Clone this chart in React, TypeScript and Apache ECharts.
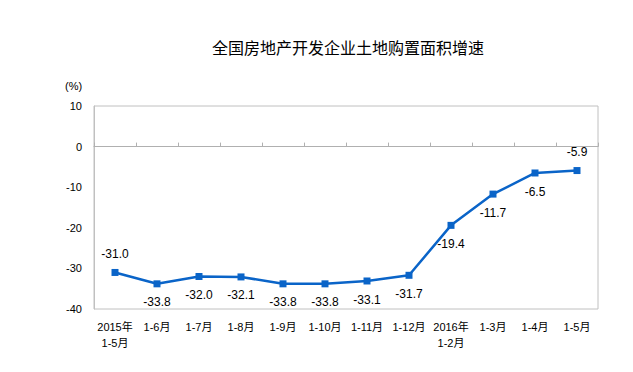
import React, { useEffect, useRef } from "react";
import * as echarts from "echarts";

const categories = ["2015年\n1-5月", "1-6月", "1-7月", "1-8月", "1-9月", "1-10月", "1-11月", "1-12月", "2016年\n1-2月", "1-3月", "1-4月", "1-5月"];
const values = [-31.0, -33.8, -32.0, -32.1, -33.8, -33.8, -33.1, -31.7, -19.4, -11.7, -6.5, -5.9];
const labelPos = ["top", "bottom", "bottom", "bottom", "bottom", "bottom", "bottom", "bottom", "bottom", "bottom", "bottom", "top"];
const title = "全国房地产开发企业土地购置面积增速";
const unit = "(%)";

const FONT = "'Liberation Sans', 'Noto Sans CJK SC', sans-serif";

export default function App() {
  const ref = useRef<HTMLDivElement>(null);
  useEffect(() => {
    const chart = echarts.init(ref.current!, null, { renderer: "svg" });
    const color = "#0a64c8";
    chart.setOption({
      animation: false,
      backgroundColor: "#fff",
      title: {
        text: title,
        left: 343,
        textAlign: "center",
        top: 34,
        textStyle: { fontSize: 16, fontWeight: "normal", color: "#000", fontFamily: "'Noto Sans CJK SC', sans-serif" },
      },
      graphic: [
        {
          type: "text",
          left: 65,
          top: 80,
          style: { text: unit, fontSize: 11, fill: "#000", font: "11px " + FONT },
        },
      ],
      grid: { left: 94, right: 35, top: 106, bottom: 63, show: true, borderColor: "#c0c0c0", borderWidth: 1, backgroundColor: "transparent" },
      xAxis: [
        {
          type: "category",
          data: categories,
          boundaryGap: true,
          axisLine: { onZero: true, lineStyle: { color: "#b0b0b0", width: 1 } },
          axisTick: { show: true, inside: true, length: 4, interval: 0, lineStyle: { color: "#b0b0b0" } },
          axisLabel: { show: false },
        },
        {
          type: "category",
          data: categories,
          position: "bottom",
          boundaryGap: true,
          axisLine: { show: false, onZero: false },
          axisTick: { show: false },
          axisLabel: { interval: 0, fontSize: 11, color: "#000", margin: 10, lineHeight: 16, fontFamily: FONT },
        },
      ],
      yAxis: {
        type: "value",
        min: -40,
        max: 10,
        interval: 10,
        axisLine: { show: true, lineStyle: { color: "#c0c0c0" } },
        axisTick: { show: false },
        splitLine: { show: false },
        axisLabel: { fontSize: 11, color: "#000", margin: 12, fontFamily: FONT },
      },
      series: [
        {
          type: "line",
          xAxisIndex: 0,
          data: values.map((v, i) => ({
            value: v,
            label: { position: labelPos[i] },
          })),
          symbol: "rect",
          symbolSize: 7,
          lineStyle: { color, width: 2.5 },
          itemStyle: { color },
          label: {
            show: true,
            formatter: (p: any) => Number(p.value).toFixed(1),
            fontSize: 12,
            color: "#000",
            distance: 9,
            fontFamily: FONT,
          },
        },
      ],
    });
    return () => chart.dispose();
  }, []);
  return <div ref={ref} style={{ width: 633, height: 372, margin: -8 }} />;
}
